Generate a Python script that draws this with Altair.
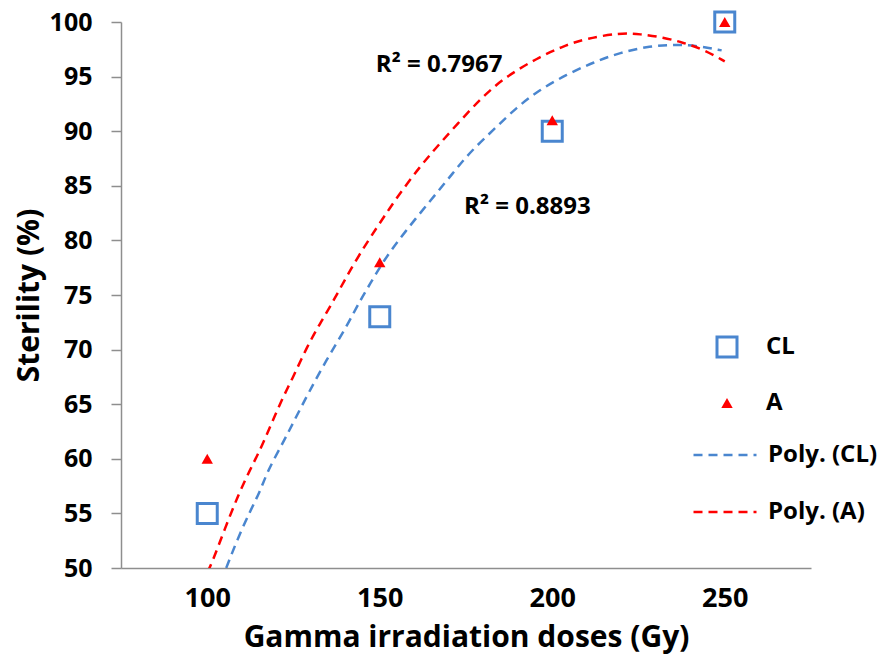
import altair as alt
import pandas as pd

# ---- data ----
doses = [100, 150, 200, 250]
cl_values = [55, 73, 90, 100]
a_values = [60, 78, 91, 100]

# trendline curves
poly_a_x = [100.0, 101.3, 105.1, 109.0, 112.4, 115.3, 117.5, 122.0, 124.5, 128.8, 132.7, 136.5,
            142.8, 149.6, 154.9, 161.7, 167.5, 175.7, 182.9, 189.7, 196.4, 203.2, 210.0,
            219.6, 225.4, 232.2, 238.0, 243.8, 250.0]
poly_a_y = [49.6, 50.4, 53.6, 56.7, 59.0, 60.8, 62.4, 65.7, 67.2, 70.2, 72.4, 74.4,
            78.1, 81.4, 83.9, 86.8, 88.9, 91.8, 94.1, 95.6, 96.8, 97.8, 98.5,
            99.0, 98.9, 98.6, 98.1, 97.5, 96.4]

poly_cl_x = [105.5, 108.7, 112.4, 115.3, 117.5, 122.0, 124.9, 129.3, 134.6, 140.4, 144.3, 147.2,
             151.0, 157.3, 165.1, 171.3, 176.2, 182.9, 189.7, 196.4, 204.2, 211.9, 219.6,
             228.3, 236.1, 242.8, 249.1]
poly_cl_y = [50.0, 52.6, 55.2, 57.0, 58.9, 61.5, 63.3, 66.0, 69.1, 72.1, 74.5, 76.0,
             78.1, 80.8, 83.8, 86.2, 88.1, 90.1, 92.2, 93.8, 95.2, 96.3, 97.2,
             97.8, 97.95, 97.8, 97.4]

series_names = ["CL", "A"]
trend_names = ["Poly. (CL)", "Poly. (A)"]

r2_text = ["R\u00b2 = 0.7967", "R\u00b2 = 0.8893"]
r2_x = [167.2, 192.8]
r2_y = [96.1, 83.1]

x_ticks = [100, 150, 200, 250]
y_ticks = [50, 55, 60, 65, 70, 75, 80, 85, 90, 95, 100]

# ---- tables ----
pts = pd.DataFrame({
    "dose": doses + doses,
    "value": cl_values + a_values,
    "series": ["CL"] * len(doses) + ["A"] * len(doses),
})
curves = pd.DataFrame({
    "dose": poly_cl_x + poly_a_x,
    "value": poly_cl_y + poly_a_y,
    "trend": ["Poly. (CL)"] * len(poly_cl_x) + ["Poly. (A)"] * len(poly_a_x),
    "idx": list(range(len(poly_cl_x))) + list(range(len(poly_a_x))),
})
notes = pd.DataFrame({"dose": r2_x, "value": r2_y, "label": r2_text})

FONT = "Open Sans"
BLUE = "#4a86cf"
RED = "#ff0000"
GRAY = "#8e8e8e"

x_enc = alt.X("dose:Q", scale=alt.Scale(domain=[75, 275], nice=False, zero=False),
              axis=alt.Axis(values=x_ticks, ticks=False, grid=False, domainColor=GRAY, domainWidth=1.5,
                            labelFont=FONT, labelFontSize=27, labelFontWeight="bold", labelColor="black",
                            labelPadding=17, labelFlush=False,
                            title="Gamma irradiation doses (Gy)", titleFont=FONT, titleFontSize=30,
                            titleFontWeight="bold", titleColor="black", titleBaseline="alphabetic",
                            titleY=78))
y_enc = alt.Y("value:Q", scale=alt.Scale(domain=[50, 100], nice=False, zero=False),
              axis=alt.Axis(values=y_ticks, grid=False, domainColor=GRAY, domainWidth=1.5,
                            tickColor=GRAY, tickWidth=1.5, tickSize=10,
                            labelFont=FONT, labelFontSize=25, labelFontWeight="bold", labelColor="black",
                            labelPadding=19,
                            title="Sterility (%)", titleFont=FONT, titleFontSize=30,
                            titleFontWeight="bold", titleColor="black", titleBaseline="middle",
                            titleX=-92))

pt_legend = alt.Legend(orient="none", legendX=594, legendY=313, title=None, padding=0,
                       labelFont=FONT, labelFontSize=24, labelFontWeight="bold", labelColor="black",
                       labelOffset=27, rowPadding=28, symbolStrokeWidth=3, symbolOpacity=1)
ln_legend = alt.Legend(orient="none", legendX=571, legendY=400, title=None, padding=0,
                       labelFont=FONT, labelFontSize=24, labelFontWeight="bold", labelColor="black",
                       labelOffset=10, rowPadding=12, symbolType="stroke", symbolSize=3969,
                       symbolStrokeWidth=2.5)

lines = alt.Chart(curves).mark_line(strokeWidth=2.5, clip=True, interpolate="basis").encode(
    x=x_enc, y=y_enc, order="idx:Q",
    color=alt.Color("trend:N", scale=alt.Scale(domain=trend_names, range=[BLUE, RED]), legend=ln_legend),
    strokeDash=alt.StrokeDash("trend:N", scale=alt.Scale(domain=trend_names, range=[[9, 6], [9, 6]]),
                              legend=ln_legend),
)

points = alt.Chart(pts).mark_point(filled=True, opacity=1, strokeWidth=3).encode(
    x=x_enc, y=y_enc,
    shape=alt.Shape("series:N", scale=alt.Scale(domain=series_names, range=["square", "triangle-up"]),
                    legend=pt_legend),
    fill=alt.Fill("series:N", scale=alt.Scale(domain=series_names, range=["white", RED]), legend=pt_legend),
    stroke=alt.Stroke("series:N", scale=alt.Scale(domain=series_names, range=[BLUE, "transparent"]),
                      legend=pt_legend),
    size=alt.Size("series:N", scale=alt.Scale(domain=series_names, range=[400, 130]), legend=pt_legend),
)

texts = alt.Chart(notes).mark_text(font=FONT, fontSize=24, fontWeight="bold", color="black",
                                   align="center", baseline="middle").encode(
    x=x_enc, y=y_enc, text="label:N")

chart = alt.layer(lines, points, texts).properties(
    width=690, height=546,
    autosize=alt.AutoSizeParams(type="none"),
    padding={"left": 113, "top": 14, "right": 70, "bottom": 87},
    background="white",
).configure_view(stroke=None)

chart.save("out.html", embed_options={"renderer": "svg", "actions": False})
